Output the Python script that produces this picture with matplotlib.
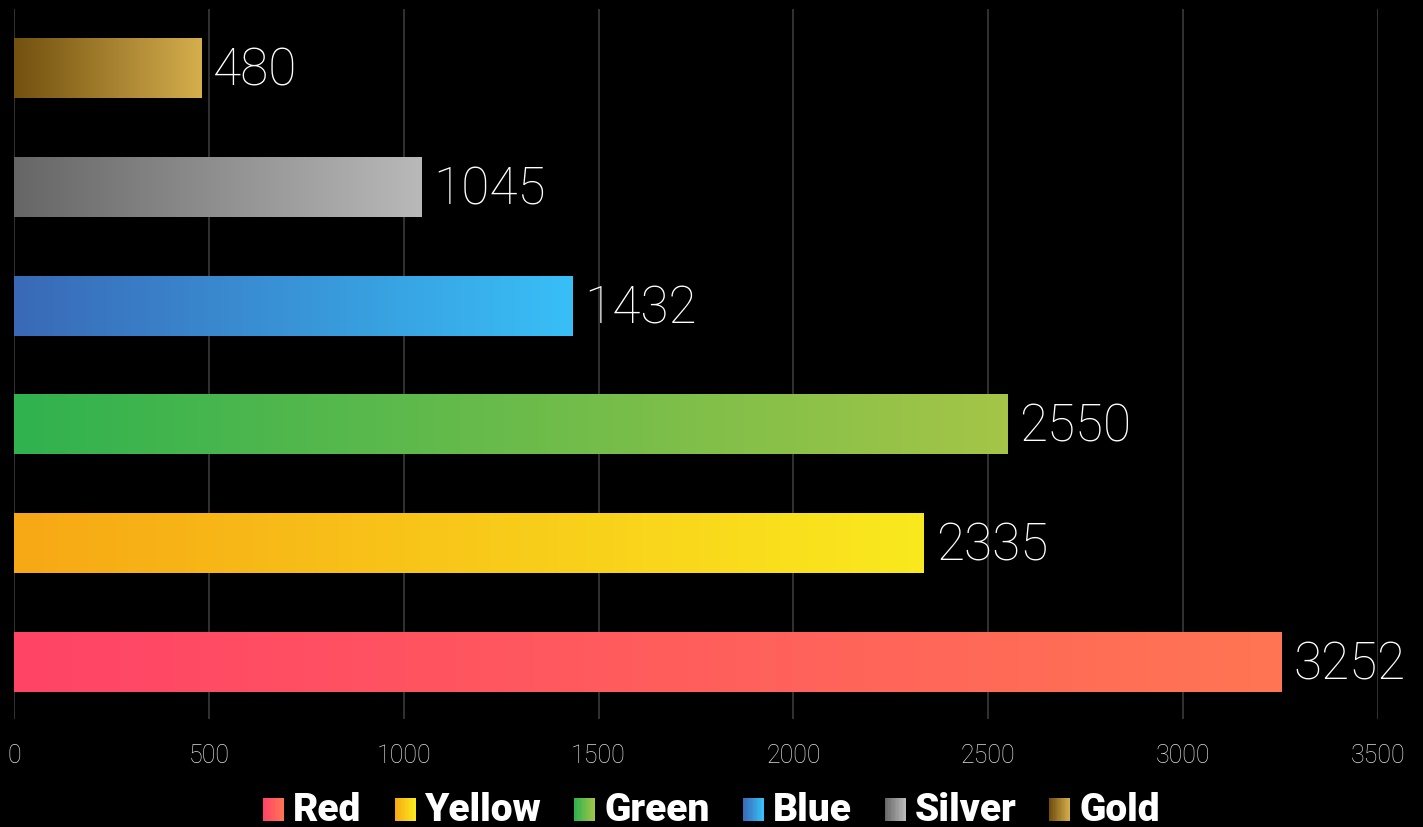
import matplotlib
matplotlib.use("Agg")
import matplotlib.pyplot as plt
import numpy as np
from matplotlib.colors import LinearSegmentedColormap
from matplotlib.patches import Rectangle
from matplotlib.legend_handler import HandlerBase

# ---- data ----
categories = ["Red", "Yellow", "Green", "Blue", "Silver", "Gold"]
values = [3252, 2335, 2550, 1432, 1045, 480]
start_colors = ["#FF4467", "#F7A815", "#30B24F", "#3A69B7", "#666666", "#72500F"]
end_colors = ["#FF7553", "#FAE91E", "#A4C547", "#38BFF7", "#B9B9B9", "#D5AE4D"]
ticks = [0, 500, 1000, 1500, 2000, 2500, 3000, 3500]

plt.rcParams["font.family"] = ["Roboto", "DejaVu Sans"]

fig = plt.figure(figsize=(14.23, 8.28), dpi=100, facecolor="black")
ax = fig.add_axes([14 / 1423, 1 - 720 / 828, 1364 / 1423, 710 / 828])
ax.set_facecolor("black")

bar_h = 0.5
ramp = np.linspace(0, 1, 256).reshape(1, -1)
for i, (cat, v) in enumerate(zip(categories, values)):
    cmap = LinearSegmentedColormap.from_list(cat, [start_colors[i], end_colors[i]])
    ax.imshow(ramp, cmap=cmap, aspect="auto", interpolation="bilinear",
              extent=[0, v, i - bar_h / 2, i + bar_h / 2], zorder=2)
    ax.text(v + 30, i - 0.02, str(v), color="white", fontsize=37, fontweight="light",
            va="center", ha="left", zorder=3)

ax.set_xlim(0, 3500)
ax.set_ylim(-0.48, 5.5)
ax.set_xticks(ticks)
ax.set_yticks([])
ax.grid(axis="x", color="#3a3a3a", linewidth=1.2, zorder=0)
for s in ax.spines.values():
    s.set_visible(False)
ax.tick_params(axis="x", length=0, pad=17, labelsize=18, labelcolor="#dddddd")
for lab in ax.get_xticklabels():
    lab.set_fontweight("light")


class GradHandler(HandlerBase):
    def __init__(self, c0, c1):
        super().__init__()
        self.c0 = c0
        self.c1 = c1

    def create_artists(self, legend, orig_handle, xdescent, ydescent, width,
                       height, fontsize, trans):
        cmap = LinearSegmentedColormap.from_list("h", [self.c0, self.c1])
        n = 16
        w = width / n
        out = []
        for k in range(n):
            r = Rectangle((-xdescent + k * w, -ydescent - height * 0.12), w * 1.05, height,
                          facecolor=cmap(k / (n - 1)), edgecolor="none", transform=trans)
            out.append(r)
        return out


handles = [Rectangle((0, 0), 1, 1) for _ in categories]
hmap = {h: GradHandler(start_colors[i], end_colors[i]) for i, h in enumerate(handles)}
leg = fig.legend(handles, categories, handler_map=hmap, loc="center",
                 bbox_to_anchor=(0.5, 1 - 811 / 828), ncol=6, frameon=False,
                 handlelength=0.54, handleheight=0.54, handletextpad=0.23,
                 columnspacing=0.85, prop={"size": 28, "weight": "black"})
for t in leg.get_texts():
    t.set_color("white")

fig.savefig("out.png", dpi=100, facecolor="black")
plt.close()
